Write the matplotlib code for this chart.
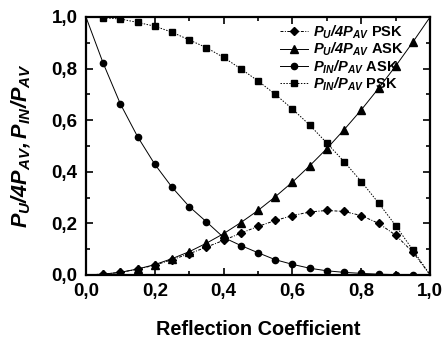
import numpy as np
import matplotlib
matplotlib.use("Agg")
import matplotlib.pyplot as plt
from matplotlib.ticker import MultipleLocator, FixedLocator, FixedFormatter

plt.rcParams['font.family'] = ['Liberation Sans', 'DejaVu Sans']
plt.rcParams['font.weight'] = 'bold'
plt.rcParams['mathtext.fontset'] = 'custom'
plt.rcParams['mathtext.it'] = 'Liberation Sans:italic:bold'
plt.rcParams['mathtext.rm'] = 'Liberation Sans:italic:bold'
plt.rcParams['mathtext.bf'] = 'Liberation Sans:italic:bold'

# reflection coefficient grid (ends carry the line only, no marker)
gamma = [0.0, 0.05, 0.10, 0.15, 0.20, 0.25, 0.30, 0.35, 0.40, 0.45, 0.50,
         0.55, 0.60, 0.65, 0.70, 0.75, 0.80, 0.85, 0.90, 0.95, 1.0]

pu_psk = [0.0, 0.003, 0.010, 0.022, 0.038, 0.059, 0.082, 0.108, 0.134, 0.162, 0.188,
          0.211, 0.230, 0.244, 0.250, 0.246, 0.230, 0.200, 0.154, 0.088, 0.0]
pu_ask = [0.0, 0.003, 0.010, 0.023, 0.040, 0.063, 0.090, 0.123, 0.160, 0.203, 0.250,
          0.303, 0.360, 0.423, 0.490, 0.563, 0.640, 0.723, 0.810, 0.903, 1.0]
pin_ask = [1.0, 0.821, 0.663, 0.536, 0.429, 0.340, 0.265, 0.206, 0.145, 0.114, 0.086,
           0.059, 0.041, 0.026, 0.016, 0.010, 0.006, 0.003, 0.001, 0.0, 0.0]
pin_psk = [1.0, 0.997, 0.992, 0.979, 0.964, 0.941, 0.911, 0.881, 0.843, 0.799, 0.752,
           0.700, 0.643, 0.581, 0.511, 0.439, 0.362, 0.279, 0.191, 0.096, 0.0]

tick_vals = [0.0, 0.2, 0.4, 0.6, 0.8, 1.0]
tick_text = ['0,0', '0,2', '0,4', '0,6', '0,8', '1,0']

fig = plt.figure(figsize=(4.43, 3.39), dpi=100)
ax = fig.add_axes([0.194, 0.189, 0.777, 0.761])

mk = slice(1, -1)
lw = 0.7
ax.plot(gamma, pu_psk, color='k', lw=lw, ls=(0, (3, 1.5, 1, 1.5)), marker='D', ms=4.5,
        markevery=mk, label=r'$P_U/4P_{AV}$ PSK')
ax.plot(gamma, pu_ask, color='k', lw=lw, ls='-', marker='^', ms=5.5,
        markevery=mk, label=r'$P_U/4P_{AV}$ ASK')
ax.plot(gamma, pin_ask, color='k', lw=lw, ls='-', marker='o', ms=4.5,
        markevery=mk, label=r'$P_{IN}/P_{AV}$ ASK')
ax.plot(gamma, pin_psk, color='k', lw=lw, ls=(0, (1.5, 1.5)), marker='s', ms=4,
        markevery=mk, label=r'$P_{IN}/P_{AV}$ PSK')

ax.set_xlim(0, 1)
ax.set_ylim(0, 1)
for a in (ax.xaxis, ax.yaxis):
    a.set_major_locator(FixedLocator(tick_vals))
    a.set_major_formatter(FixedFormatter(tick_text))
    a.set_minor_locator(MultipleLocator(0.1))
ax.tick_params(which='both', direction='in', top=True, right=True, width=1.2)
ax.tick_params(which='major', length=5, labelsize=13.5, pad=6)
ax.tick_params(which='minor', length=3)
for s in ax.spines.values():
    s.set_linewidth(1.6)

ax.set_xlabel('Reflection Coefficient', fontsize=14.3, fontweight='bold', labelpad=14)
ax.set_ylabel(r'$P_U/4P_{AV},P_{IN}/P_{AV}$', fontsize=15.6, labelpad=13)

leg = ax.legend(loc='upper left', bbox_to_anchor=(0.565, 0.975), frameon=False,
                fontsize=10.5, handlelength=1.9, handletextpad=0.3,
                labelspacing=0.0, borderaxespad=0, borderpad=0)

fig.savefig('out.png', dpi=100)
